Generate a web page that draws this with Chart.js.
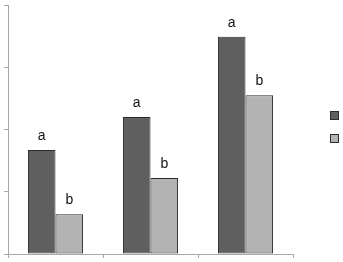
<!DOCTYPE html>
<html>
<head>
<meta charset="utf-8">
<script src="https://cdn.jsdelivr.net/npm/chart.js@4/dist/chart.umd.min.js"></script>
<style>
  html, body { margin: 0; padding: 0; background: #fff; }
  #wrap { width: 343px; height: 262px; }
</style>
</head>
<body>
<div id="wrap"><canvas id="barChart" width="343" height="262"></canvas></div>
<script>
// chart data
const categories = ['1', '2', '3'];
const seriesNames = ['Series 1', 'Series 2'];
const darkValues = [1.67, 2.2, 3.49];
const lightValues = [0.64, 1.22, 2.55];
const darkLetters = ['a', 'a', 'a'];
const lightLetters = ['b', 'b', 'b'];
const yTicks = [0, 1, 2, 3, 4];

const axisColor = '#a8a8a8';

// letters above each bar
const letterPlugin = {
    id: 'letters',
    afterDatasetsDraw(chart) {
        const ctx = chart.ctx;
        const letterSets = [darkLetters, lightLetters];
        ctx.save();
        ctx.fillStyle = '#111';
        ctx.font = '14px "Liberation Sans", Arial, sans-serif';
        ctx.textAlign = 'center';
        ctx.textBaseline = 'alphabetic';
        chart.data.datasets.forEach(function (ds, i) {
            const meta = chart.getDatasetMeta(i);
            meta.data.forEach(function (bar, j) {
                ctx.fillText(letterSets[i][j], bar.x, bar.y - 10);
            });
        });
        ctx.restore();
    }
};

// legend: boxes only, no text
const boxLegend = {
    id: 'boxLegend',
    afterDraw(chart) {
        const ctx = chart.ctx;
        const area = chart.chartArea;
        const x = area.right + 37;
        let y = 111;
        ctx.save();
        chart.data.datasets.forEach(function (ds) {
            ctx.fillStyle = ds.backgroundColor;
            ctx.strokeStyle = ds.borderColor;
            ctx.lineWidth = 1;
            ctx.fillRect(x, y, 8, 8);
            ctx.strokeRect(x + 0.5, y + 0.5, 8, 8);
            y += 23;
        });
        ctx.restore();
    }
};

const ctx = document.getElementById('barChart').getContext('2d');
new Chart(ctx, {
    type: 'bar',
    data: {
        labels: categories,
        datasets: [{
            label: seriesNames[0],
            data: darkValues,
            backgroundColor: '#5f5f5f',
            borderColor: '#2b2b2b',
            borderWidth: 1,
            borderSkipped: false
        }, {
            label: seriesNames[1],
            data: lightValues,
            backgroundColor: '#b3b3b3',
            borderColor: '#2b2b2b',
            borderWidth: 1,
            borderSkipped: false
        }]
    },
    options: {
        responsive: false,
        animation: false,
        layout: {
            padding: { left: 4, right: 50, top: 5, bottom: 4 }
        },
        plugins: {
            legend: { display: false },
            tooltip: { enabled: false }
        },
        datasets: {
            bar: {
                categoryPercentage: 0.58,
                barPercentage: 1.0
            }
        },
        scales: {
            x: {
                grid: {
                    drawOnChartArea: false,
                    drawTicks: true,
                    tickLength: 4,
                    color: axisColor
                },
                border: { color: axisColor, width: 1 },
                ticks: { display: false }
            },
            y: {
                min: yTicks[0],
                max: yTicks[yTicks.length - 1],
                afterBuildTicks: function (axis) {
                    axis.ticks = yTicks.map(function (v) { return { value: v }; });
                },
                grid: {
                    drawOnChartArea: false,
                    drawTicks: true,
                    tickLength: 4,
                    color: axisColor
                },
                border: { color: axisColor, width: 1 },
                ticks: { display: false }
            }
        }
    },
    plugins: [letterPlugin, boxLegend]
});
</script>
</body>
</html>
